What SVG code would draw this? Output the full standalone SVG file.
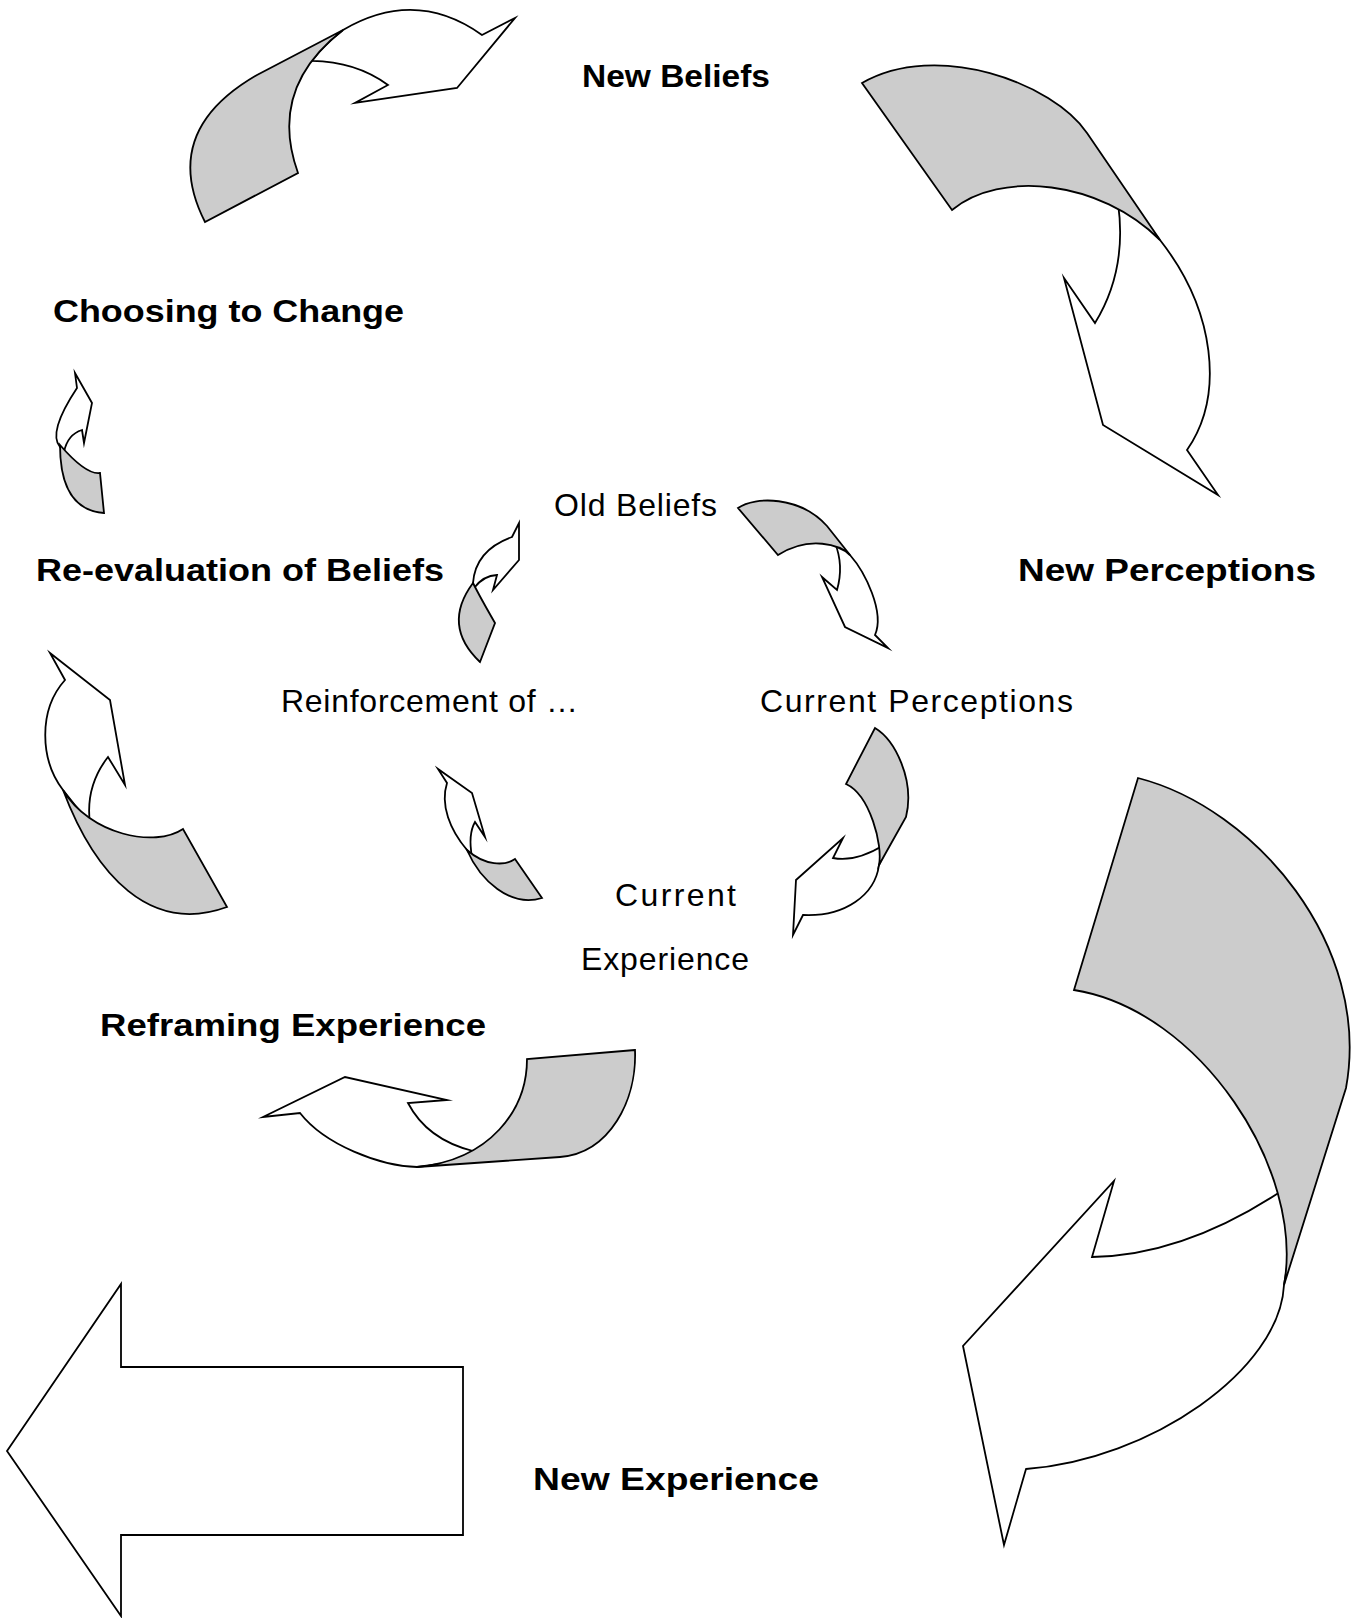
<svg xmlns="http://www.w3.org/2000/svg" width="1366" height="1618" viewBox="0 0 1366 1618">
  <style>
    .front { fill: #ffffff; stroke: #000000; stroke-width: 1.8; stroke-linejoin: miter; stroke-miterlimit: 10; }
    .back  { fill: #cccccc; stroke: #000000; stroke-width: 1.8; stroke-linejoin: miter; stroke-miterlimit: 10; }
    .outer { font-family: "Liberation Sans", Arial, sans-serif; font-weight: bold; font-size: 32px; fill: #000000; }
    .inner { font-family: "Liberation Sans", Arial, sans-serif; font-size: 32px; fill: #000000; }
  </style>
  <rect width="1366" height="1618" fill="#ffffff"/>

  <!-- Curved arrows: white front part first, shaded back fold drawn over it -->
  <g id="connectors">
    <!-- outer cycle -->
    <g id="arrow-change-to-newbeliefs">
      <path class="front" d="M311.8,60.9 Q324.1,44.6 343,30 Q415.5,-12.5 482,35 L515,18 L457,88 L355,103 L388,85 Q356,61.5 311.8,60.9 Z"/>
      <path class="back" d="M205,222 Q159,131.5 257,75 L343,30 Q267.5,88.5 298,173 Z"/>
    </g>
    <g id="arrow-newbeliefs-to-newperceptions">
      <path class="front" d="M1160,240 C1215,310 1225,395 1187,450 L1218,495 L1103,425 L1064,278 L1095,323 Q1127.5,270 1118,203 L1135,208 Z"/>
      <path class="back" d="M862,83 C937,40 1053,83 1087,133 L1160,240 C1100,180 1000,170 952,210 Z"/>
    </g>
    <g id="arrow-newperceptions-to-newexperience">
      <path class="front" d="M1284,1285 C1280,1370 1150,1460 1026,1469 L1004,1545 L963,1346 L1114,1181 L1092,1257 Q1184.5,1255.5 1283,1190 L1293,1232 Z"/>
      <path class="back" d="M1138,778 C1255,808 1372,945 1346,1088 L1284,1285 C1305,1170 1200,1010 1074,990 Z"/>
    </g>
    <g id="arrow-newexperience-left">
      <path class="front" d="M7,1451 L121,1284 L121,1367 L463,1367 L463,1535 L121,1535 L121,1616 Z"/>
    </g>
    <g id="arrow-reevaluation-to-choosing">
      <path class="front" d="M60,447 Q47.5,432.5 77,388 L75,373 L92,403 L84,443 L82,430 Q67.5,434.5 64,452 Z"/>
      <path class="back" d="M60,445 Q60,510 104,513 L100,473 Q86,475 60,445 Z"/>
    </g>
    <g id="arrow-reframing-to-reevaluation">
      <path class="front" d="M63,790 C40,760 38,710 65,680 L50,653 L110,700 L125,785 L108,757 Q85,786.5 90,824 Z"/>
      <path class="back" d="M63,790 C95,875 150,935 227,907 L183,829 C155,848 90,835 63,790 Z"/>
    </g>
    <g id="arrow-currentexperience-to-reframing">
      <path class="front" d="M417,1167 C380,1166 325,1145 300,1113 L263,1117 L345,1077 L447,1100 L408,1103 Q427,1139.5 473,1151 L470,1160 Z"/>
      <path class="back" d="M635,1050 L527,1059 C527,1110 490,1160 417,1167 L560,1157 C610,1153 637,1100 635,1050 Z"/>
    </g>

    <!-- inner cycle -->
    <g id="arrow-reinforcement-to-oldbeliefs">
      <path class="front" d="M473,583 Q475.5,550 512,537 L519,523 L519,560 L493,590 L497,575 Q483.5,575.5 474,588 Z"/>
      <path class="back" d="M473,583 Q441.5,625.5 480,662 L495,623 Q480,597 473,583 Z"/>
    </g>
    <g id="arrow-oldbeliefs-to-currentperceptions">
      <path class="front" d="M850,555 C865,572 885,612 875,635 L888,648 L845,627 L822,577 L837,590 Q844,565.5 835,543 L845,550 Z"/>
      <path class="back" d="M738,508 C755,496 800,496 827,526 L850,555 C840,545 810,535 778,555 Z"/>
    </g>
    <g id="arrow-currentperceptions-to-currentexperience">
      <path class="front" d="M879,865 C875,895 845,917 803,915 L793,935 L796,880 L843,838 L833,858 Q855.5,862.5 884,845 L886,850 Z"/>
      <path class="back" d="M875,728 C895,740 915,780 906,817 L879,865 C883,845 870,795 846,784 Z"/>
    </g>
    <g id="arrow-currentexperience-to-reinforcement">
      <path class="front" d="M467,850 C450,830 440,805 447,783 L438,769 L472,793 L485,837 L475,822 Q467.9,834.5 472,857 Z"/>
      <path class="back" d="M467,850 C480,880 510,908 542,898 L515,859 C505,866 485,866 467,850 Z"/>
    </g>
  </g>

  <!-- Outer cycle labels -->
  <g id="new-beliefs"><text class="outer" x="582" y="87" textLength="188" lengthAdjust="spacingAndGlyphs">New Beliefs</text></g>
  <g id="new-perceptions"><text class="outer" x="1018" y="581" textLength="298" lengthAdjust="spacingAndGlyphs">New Perceptions</text></g>
  <g id="new-experience"><text class="outer" x="533" y="1490" textLength="286" lengthAdjust="spacingAndGlyphs">New Experience</text></g>
  <g id="reframing-experience"><text class="outer" x="100" y="1036" textLength="386" lengthAdjust="spacingAndGlyphs">Reframing Experience</text></g>
  <g id="re-evaluation"><text class="outer" x="36" y="581" textLength="408" lengthAdjust="spacingAndGlyphs">Re-evaluation of Beliefs</text></g>
  <g id="choosing-to-change"><text class="outer" x="53" y="322" textLength="351" lengthAdjust="spacingAndGlyphs">Choosing to Change</text></g>

  <!-- Inner cycle labels -->
  <g id="old-beliefs"><text class="inner" x="554" y="516" textLength="163" lengthAdjust="spacing">Old Beliefs</text></g>
  <g id="current-perceptions"><text class="inner" x="760" y="712" textLength="313" lengthAdjust="spacing">Current Perceptions</text></g>
  <g id="current-experience">
    <text class="inner" x="615" y="906" textLength="121" lengthAdjust="spacing">Current</text>
    <text class="inner" x="581" y="970" textLength="168" lengthAdjust="spacing">Experience</text>
  </g>
  <g id="reinforcement"><text class="inner" x="281" y="712" textLength="297" lengthAdjust="spacing">Reinforcement of …</text></g>
</svg>
